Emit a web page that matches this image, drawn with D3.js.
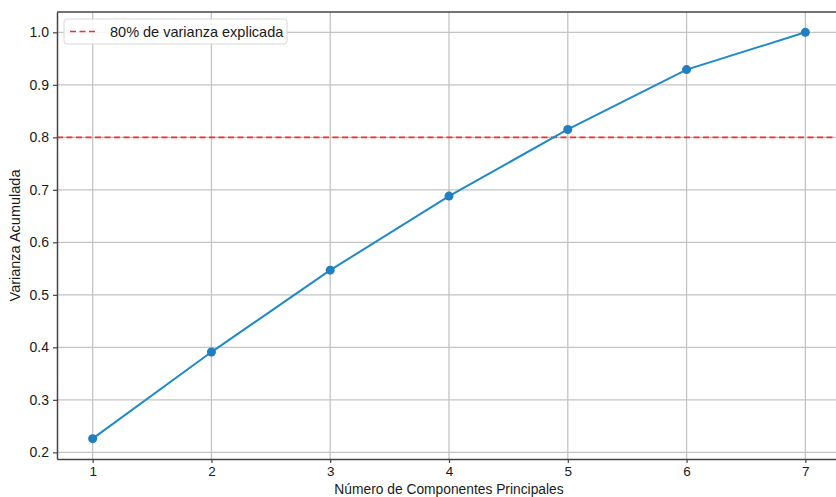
<!DOCTYPE html>
<meta charset="utf-8">
<style>
body { margin: 0; background: #fff; }
svg { display: block; font-family: "Liberation Sans", Arial, sans-serif; }
.tick text { font-size: 14px; fill: #1a1a1a; }
</style>
<body>
<svg width="836" height="497"></svg>
<script src="https://cdn.jsdelivr.net/npm/d3@7"></script>
<script>
var components = [1, 2, 3, 4, 5, 6, 7];
var cumVariance = [0.226, 0.391, 0.547, 0.688, 0.815, 0.929, 1.0];
var threshold = 0.8;
var xTicks = [1, 2, 3, 4, 5, 6, 7];
var yTicks = [0.2, 0.3, 0.4, 0.5, 0.6, 0.7, 0.8, 0.9, 1.0];

var margin = {left: 57, top: 12, right: -5, bottom: 38};
var width = 836, height = 497;

var svg = d3.select("svg");

var x = d3.scaleLinear()
	.domain([0.7, 7.3])
	.range([margin.left, width - margin.right]);

var y = d3.scaleLinear()
	.domain([0.1873, 1.0387])
	.range([height - margin.bottom, margin.top]);

// grid
svg.append("g").selectAll("line").data(xTicks).enter().append("line")
	.attr("x1", d => x(d)).attr("x2", d => x(d))
	.attr("y1", y.range()[1]).attr("y2", y.range()[0])
	.attr("stroke", "#c4c4c4").attr("stroke-width", 1.3);
svg.append("g").selectAll("line").data(yTicks).enter().append("line")
	.attr("y1", d => y(d)).attr("y2", d => y(d))
	.attr("x1", x.range()[0]).attr("x2", x.range()[1])
	.attr("stroke", "#c4c4c4").attr("stroke-width", 1.3);

// threshold
svg.append("line")
	.attr("x1", x.range()[0]).attr("x2", x.range()[1])
	.attr("y1", y(threshold)).attr("y2", y(threshold))
	.attr("stroke", "#ff2b2b").attr("stroke-width", 1.7)
	.attr("stroke-dasharray", "6,3.5");

// line + points
var line = d3.line()
	.x((d, i) => x(components[i]))
	.y(d => y(d));

svg.append("path")
	.attr("d", line(cumVariance))
	.attr("fill", "none")
	.attr("stroke", "#1f8ac6")
	.attr("stroke-width", 2);

svg.append("g").selectAll("circle").data(cumVariance).enter().append("circle")
	.attr("cx", (d, i) => x(components[i]))
	.attr("cy", d => y(d))
	.attr("r", 4.5)
	.attr("fill", "#1f7fc0");

// axes
var xAxis = svg.append("g")
	.attr("transform", "translate(0," + y.range()[0] + ")")
	.call(d3.axisBottom(x).tickValues(xTicks).tickSize(4).tickSizeOuter(0).tickPadding(3).tickFormat(d3.format("d")));
var yAxis = svg.append("g")
	.attr("transform", "translate(" + x.range()[0] + ",0)")
	.call(d3.axisLeft(y).tickValues(yTicks).tickSize(4).tickSizeOuter(0).tickPadding(4).tickFormat(d3.format(".1f")));
[xAxis, yAxis].forEach(function(a) {
	a.select(".domain").attr("stroke", "#444").attr("stroke-width", 1.5);
	a.selectAll(".tick line").attr("stroke", "#444").attr("stroke-width", 1.2);
});
xAxis.selectAll(".tick text").style("font-size", "13.5px");
svg.append("line")
	.attr("x1", x.range()[0]).attr("x2", x.range()[1])
	.attr("y1", y.range()[1]).attr("y2", y.range()[1])
	.attr("stroke", "#444").attr("stroke-width", 1.5);

// labels
svg.append("text")
	.attr("x", (x.range()[0] + x.range()[1]) / 2)
	.attr("y", 493.5)
	.attr("text-anchor", "middle")
	.style("font-size", "13.8px").attr("fill", "#1a1a1a")
	.text("Número de Componentes Principales");
svg.append("text")
	.attr("transform", "translate(20," + ((y.range()[0] + y.range()[1]) / 2) + ") rotate(-90)")
	.attr("text-anchor", "middle")
	.style("font-size", "14.5px").attr("fill", "#1a1a1a")
	.text("Varianza Acumulada");

// legend
var lg = svg.append("g").attr("transform", "translate(64,19)");
lg.append("rect")
	.attr("width", 223).attr("height", 25).attr("rx", 3)
	.attr("fill", "#fff").attr("fill-opacity", 0.85)
	.attr("stroke", "#d8d8d8");
lg.append("line")
	.attr("x1", 6).attr("x2", 33).attr("y1", 12.5).attr("y2", 12.5)
	.attr("stroke", "#ff2b2b").attr("stroke-width", 1.7)
	.attr("stroke-dasharray", "6,3.5");
lg.append("text")
	.attr("x", 46).attr("y", 17.5)
	.style("font-size", "14.5px").attr("fill", "#1a1a1a")
	.text("80% de varianza explicada");
</script>
</body>
